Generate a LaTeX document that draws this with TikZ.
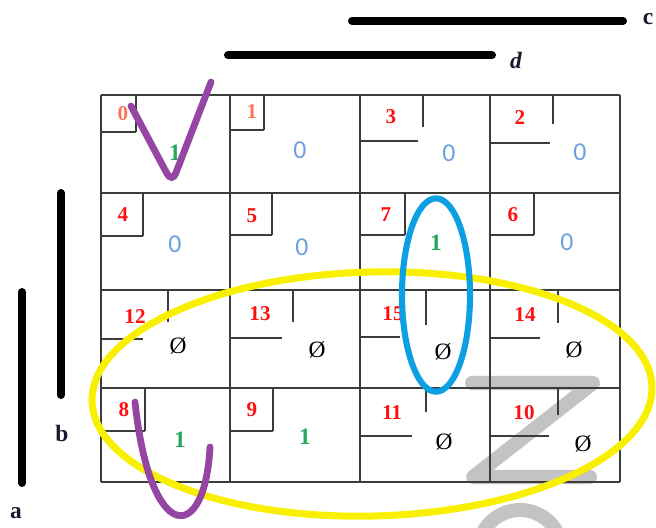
\documentclass[tikz,border=0pt]{standalone}
\usepackage{fontspec}
\setmainfont{Liberation Serif}
\newfontfamily\calfont{Carlito}
\usepackage{xcolor}
\usepackage{tikz}
\usetikzlibrary{positioning}
\definecolor{gridInk}{HTML}{3C3C3C}
\definecolor{mRed}{HTML}{FF1010}
\definecolor{mOrange}{HTML}{FF7458}
\definecolor{vBlue}{HTML}{6C9FE0}
\definecolor{vGreen}{HTML}{22A858}
\definecolor{varInk}{HTML}{1A1A2E}
\definecolor{loopYellow}{HTML}{F8F000}
\definecolor{loopBlue}{HTML}{0CA0E2}
\definecolor{loopPurple}{HTML}{9545A2}
\definecolor{zGray}{HTML}{9C9C9C}
\tikzset{
  kgrid/.style={draw=gridInk, line width=1.2pt},
  kbox/.style={draw=gridInk, line width=1.2pt},
  minterm/.style={font=\fontsize{18}{18}\selectfont\bfseries, text=mRed, inner sep=0pt},
  mintermlt/.style={minterm, text=mOrange},
  valzero/.style={font=\calfont\fontsize{22}{22}\selectfont, text=vBlue, inner sep=0pt},
  valone/.style={font=\fontsize{20}{20}\selectfont\bfseries, text=vGreen, inner sep=0pt},
  valdc/.style={font=\fontsize{20}{20}\selectfont, text=black, inner sep=0pt},
}
\tikzset{
  varbar/.style={draw=black, line width=6.8pt, line cap=round},
  varname/.style={font=\fontsize{20}{20}\selectfont\bfseries, text=varInk, inner sep=0pt},
  loopyellow/.style={draw=loopYellow, line width=6pt},
  loopblue/.style={draw=loopBlue, line width=5.2pt},
  looppurple/.style={draw=loopPurple, line width=5.8pt, line cap=round},
  zmark/.style={draw=zGray, opacity=0.6, line width=12pt, line cap=round, line join=round},
}
\begin{document}
\begin{tikzpicture}[x=0.03cm, y=-0.03cm]
  \clip (0,0) rectangle (656,527);
  \fill[white] (0,0) rectangle (656,527);
  \draw[zmark] (472,383) -- (593,383) -- (473,477) -- (590,477);
  \draw[zmark] (520,552) circle[radius=1.26cm];
  \foreach \gx in {101,230,360,490,620}
    \draw[kgrid] (\gx,95) -- (\gx,482);
  \foreach \gy in {95,193,290,388,482}
    \draw[kgrid] (101,\gy) -- (620,\gy);
  \foreach \cx/\cy/\bx/\ve/\by/\he in {101/95/136/132/132/136, 230/95/264/130/130/264,
      360/95/423/127/141/418, 490/95/553/124/143/550,
      101/193/143/236/236/143, 230/193/272/235/235/272, 360/193/405/235/235/405, 490/193/534/235/235/534,
      101/290/168/322/339/143, 230/290/293/322/338/282, 360/290/426/325/337/400, 490/290/558/323/338/540,
      101/388/145/431/431/145, 230/388/273/431/431/273, 360/388/426/412/436/412, 490/388/558/415/436/549}{
    \draw[kbox] (\bx,\cy) -- (\bx,\ve);
    \draw[kbox] (\cx,\by) -- (\he,\by);
  }
  \node[mintermlt] (m0) at (123,114) {0};
  \node[mintermlt] (m1) at (252,112) {1};
  \foreach \n/\lx/\ly in {3/391/117, 2/520/118, 4/123/215, 5/252/216, 7/386/215, 6/513/215,
      12/135/317, 13/260/314, 15/393/314, 14/525/315, 8/124/410, 9/252/410, 11/392/413, 10/524/413}
    \node[minterm] (m\n) at (\lx,\ly) {\n};
  \foreach \n/\vx/\vy in {1/300/150, 3/449/153, 2/580/152, 4/175/244, 5/302/247, 6/567/242}
    \node[valzero] (v\n) at (\vx,\vy) {0};
  \foreach \n/\vx/\vy in {0/175/153, 7/436/243, 8/180/440, 9/305/437}
    \node[valone] (v\n) at (\vx,\vy) {1};
  \foreach \n/\vx/\vy in {12/178/346, 13/317/350, 15/443/352, 14/574/350, 11/444/442, 10/583/444}
    \node[valdc] (v\n) at (\vx,\vy) {Ø};
  \draw[varbar] (352,21) -- (623,21);
  \node[varname] (c) at (648,19) {c};
  \draw[varbar] (228,55) -- (492,55);
  \node[varname] (d) at (516,60) {\itshape d};
  \draw[varbar] (61,193) -- (61,395);
  \node[varname] (b) at (62,433) {b};
  \draw[varbar] (22,292) -- (22,483);
  \node[varname] (a) at (16,513) {a};
  \draw[loopyellow, rotate around={1.5:(372,394)}] (372,394) ellipse[x radius=8.4cm, y radius=3.66cm];
  \draw[loopblue] (436,295) ellipse[x radius=1.02cm, y radius=2.9cm];
  \draw[looppurple, rounded corners=9pt] (131,106) -- (172,183) -- (211,82);
  \draw[looppurple] (135,402) .. controls (150,545) and (205,545) .. (210,447);
\end{tikzpicture}
\end{document}
